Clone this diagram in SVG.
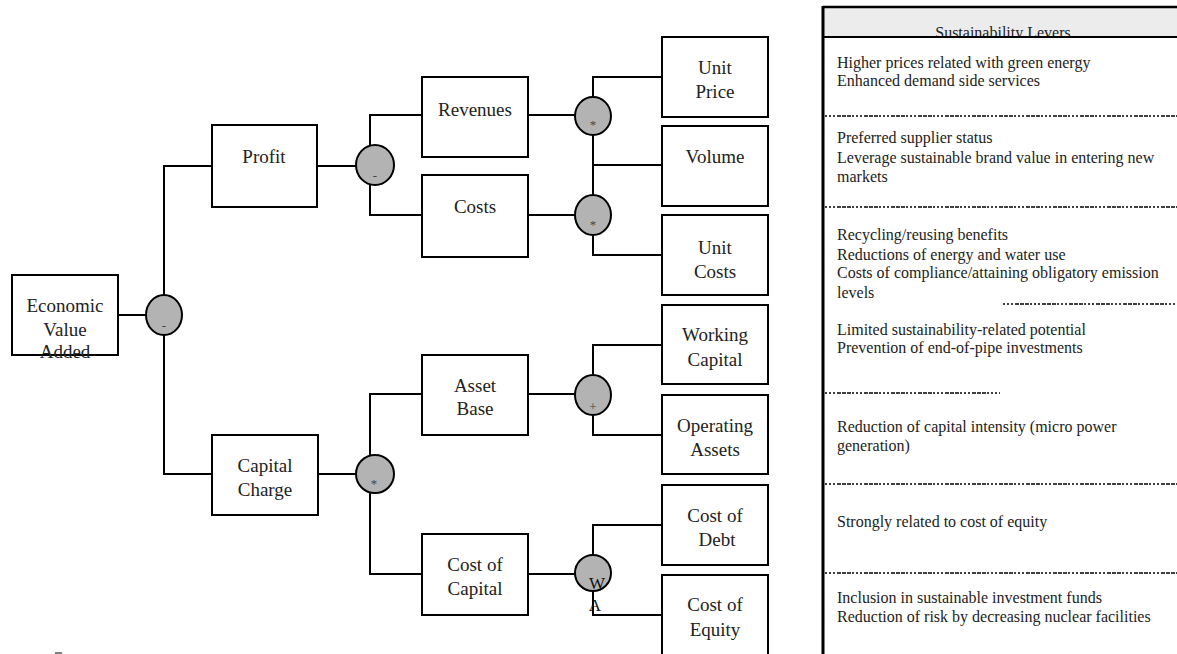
<svg xmlns="http://www.w3.org/2000/svg" width="1177" height="654" viewBox="0 0 1177 654">
<style>
.box{fill:#fff;stroke:#000;stroke-width:2}
.op{fill:#b3b3b3;stroke:#000;stroke-width:2}
.t{font-family:"Liberation Serif","Times New Roman",serif;font-size:19px;fill:#222;text-anchor:middle}
.s{font-family:"Liberation Serif","Times New Roman",serif;font-size:13px;fill:#444;text-anchor:middle}
.w{font-family:"Liberation Serif","Times New Roman",serif;font-size:17px;fill:#111;text-anchor:middle}
.tb{font-family:"Liberation Serif","Times New Roman",serif;font-size:16px;fill:#222}
.dot{stroke:#000;stroke-width:1.5;stroke-dasharray:2 2 2 2 2 2 4 1 4 1 4 1;fill:none}
#connectors line{stroke:#000;stroke-width:2}
</style>
<rect width="1177" height="654" fill="#fff"/>
<g id="connectors">
<line x1="116" y1="315" x2="146" y2="315"/>
<line x1="164" y1="166" x2="164" y2="474"/>
<line x1="163" y1="166" x2="212" y2="166"/>
<line x1="163" y1="474" x2="212" y2="474"/>
<line x1="317" y1="166" x2="356" y2="166"/>
<line x1="370" y1="114" x2="370" y2="216"/>
<line x1="369" y1="115" x2="422" y2="115"/>
<line x1="369" y1="215" x2="422" y2="215"/>
<line x1="528" y1="115" x2="575" y2="115"/>
<line x1="528" y1="215" x2="575" y2="215"/>
<line x1="593" y1="76" x2="593" y2="256"/>
<line x1="592" y1="77" x2="662" y2="77"/>
<line x1="592" y1="165" x2="662" y2="165"/>
<line x1="592" y1="255" x2="662" y2="255"/>
<line x1="318" y1="474" x2="356" y2="474"/>
<line x1="370" y1="393" x2="370" y2="575"/>
<line x1="369" y1="394" x2="422" y2="394"/>
<line x1="369" y1="574" x2="422" y2="574"/>
<line x1="528" y1="394" x2="575" y2="394"/>
<line x1="528" y1="574" x2="575" y2="574"/>
<line x1="593" y1="344" x2="593" y2="436"/>
<line x1="592" y1="345" x2="662" y2="345"/>
<line x1="592" y1="435" x2="662" y2="435"/>
<line x1="593" y1="524" x2="593" y2="616"/>
<line x1="592" y1="525" x2="662" y2="525"/>
<line x1="592" y1="615" x2="662" y2="615"/>
</g>
<g id="eva"><rect class="box" x="12" y="275" width="106" height="80"/><text class="t" x="65" y="312">Economic</text><text class="t" x="65" y="336">Value</text><text class="t" x="65" y="358">Added</text></g>
<g id="profit"><rect class="box" x="212" y="125" width="105" height="82"/><text class="t" x="264" y="163">Profit</text></g>
<g id="capital-charge"><rect class="box" x="212" y="435" width="106" height="80"/><text class="t" x="265" y="472">Capital</text><text class="t" x="265" y="496">Charge</text></g>
<g id="revenues"><rect class="box" x="422" y="77" width="106" height="80"/><text class="t" x="475" y="116">Revenues</text></g>
<g id="costs"><rect class="box" x="422" y="175" width="106" height="82"/><text class="t" x="475" y="213">Costs</text></g>
<g id="asset-base"><rect class="box" x="422" y="355" width="106" height="80"/><text class="t" x="475" y="392">Asset</text><text class="t" x="475" y="415">Base</text></g>
<g id="cost-of-capital"><rect class="box" x="422" y="534" width="106" height="81"/><text class="t" x="475" y="571">Cost of</text><text class="t" x="475" y="595">Capital</text></g>
<g id="unit-price"><rect class="box" x="662" y="37" width="106" height="80"/><text class="t" x="715" y="74">Unit</text><text class="t" x="715" y="98">Price</text></g>
<g id="volume"><rect class="box" x="662" y="126" width="106" height="80"/><text class="t" x="715" y="163">Volume</text></g>
<g id="unit-costs"><rect class="box" x="662" y="215" width="106" height="80"/><text class="t" x="715" y="254">Unit</text><text class="t" x="715" y="278">Costs</text></g>
<g id="working-capital"><rect class="box" x="662" y="305" width="106" height="79"/><text class="t" x="715" y="341">Working</text><text class="t" x="715" y="366">Capital</text></g>
<g id="operating-assets"><rect class="box" x="662" y="395" width="106" height="79"/><text class="t" x="715" y="432">Operating</text><text class="t" x="715" y="456">Assets</text></g>
<g id="cost-of-debt"><rect class="box" x="662" y="485" width="106" height="80"/><text class="t" x="715" y="522">Cost of</text><text class="t" x="717" y="546">Debt</text></g>
<g id="cost-of-equity"><rect class="box" x="662" y="575" width="106" height="84"/><text class="t" x="715" y="611">Cost of</text><text class="t" x="715" y="636">Equity</text></g>
<g id="op-eva"><ellipse class="op" cx="164" cy="315" rx="18" ry="20"/><text class="s" x="164" y="330">-</text></g>
<g id="op-profit"><ellipse class="op" cx="375" cy="165" rx="19" ry="20"/><text class="s" x="375" y="180">-</text></g>
<g id="op-rev"><ellipse class="op" cx="593" cy="116" rx="18" ry="19"/><text class="s" x="593" y="129">*</text></g>
<g id="op-costs"><ellipse class="op" cx="593" cy="215" rx="18" ry="20"/><text class="s" x="593" y="229">*</text></g>
<g id="op-cc"><ellipse class="op" cx="375" cy="474" rx="19" ry="19"/><text class="s" x="374" y="488">*</text></g>
<g id="op-ab"><ellipse class="op" cx="593" cy="395" rx="18" ry="20"/><text class="s" x="593" y="411">+</text></g>
<g id="op-wa"><ellipse class="op" cx="593" cy="573" rx="18" ry="18"/><text class="w" x="597" y="589">W</text><text class="w" x="595" y="611">A</text></g>
<g id="levers">
<rect x="823" y="7" width="360" height="30" fill="#ececec"/>
<text class="tb" x="1003" y="38" text-anchor="middle">Sustainability Levers</text>
<rect x="823" y="37" width="360" height="620" fill="#fff"/>
<line x1="823" y1="7" x2="1177" y2="7" stroke="#000" stroke-width="2.5"/>
<line x1="823" y1="37" x2="1177" y2="37" stroke="#000" stroke-width="2"/>
<line x1="823" y1="6" x2="823" y2="654" stroke="#000" stroke-width="3"/>
<line class="dot" x1="825" y1="116" x2="1177" y2="116"/>
<line class="dot" x1="825" y1="207" x2="1177" y2="207"/>
<line class="dot" x1="1003" y1="304" x2="1177" y2="304"/>
<line class="dot" x1="825" y1="393" x2="1000" y2="393"/>
<line class="dot" x1="825" y1="484" x2="1177" y2="484"/>
<line class="dot" x1="825" y1="573" x2="1177" y2="573"/>
<text class="tb" x="837" y="68">Higher prices related with green energy</text>
<text class="tb" x="837" y="86">Enhanced demand side services</text>
<text class="tb" x="837" y="143">Preferred supplier status</text>
<text class="tb" x="837" y="163">Leverage sustainable brand value in entering new</text>
<text class="tb" x="837" y="182">markets</text>
<text class="tb" x="837" y="240">Recycling/reusing benefits</text>
<text class="tb" x="837" y="260">Reductions of energy and water use</text>
<text class="tb" x="837" y="278">Costs of compliance/attaining obligatory emission</text>
<text class="tb" x="837" y="298">levels</text>
<text class="tb" x="837" y="335">Limited sustainability-related potential</text>
<text class="tb" x="837" y="353">Prevention of end-of-pipe investments</text>
<text class="tb" x="837" y="432">Reduction of capital intensity (micro power</text>
<text class="tb" x="837" y="451">generation)</text>
<text class="tb" x="837" y="527">Strongly related to cost of equity</text>
<text class="tb" x="837" y="603">Inclusion in sustainable investment funds</text>
<text class="tb" x="837" y="622">Reduction of risk by decreasing nuclear facilities</text>
</g>
<line x1="55" y1="653" x2="62" y2="653" stroke="#555" stroke-width="1.5"/>
</svg>
